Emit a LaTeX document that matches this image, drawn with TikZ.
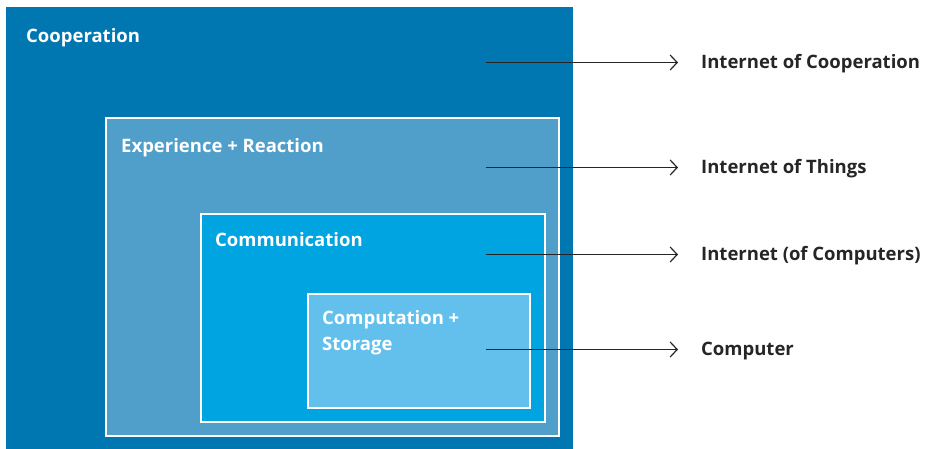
\documentclass[tikz,border=0pt]{standalone}
\usepackage{fontspec}
\setmainfont{Open Sans}
\usetikzlibrary{arrows.meta}
\definecolor{cOut}{HTML}{0077B0}
\definecolor{cExp}{HTML}{4F9FCA}
\definecolor{cCom}{HTML}{00A4E0}
\definecolor{cCmp}{HTML}{63C0EC}
\definecolor{txt}{HTML}{262626}
\begin{document}
\begin{tikzpicture}[x=1bp,y=-1bp,
  box/.style={draw=white,line width=2bp},
  boxlabel/.style={anchor=base west,inner sep=0,text=white,font=\fontsize{18.5bp}{26bp}\selectfont\bfseries},
  sidelabel/.style={anchor=base west,inner sep=0,text=txt,font=\fontsize{18.5bp}{22bp}\selectfont\bfseries},
  conn/.style={draw=txt,line width=1.2bp,-{Straight Barb[length=7bp,width=15bp,line width=1.2bp]}}]
\useasboundingbox (0,0) rectangle (925,449);
\fill[white] (0,0) rectangle (925,449);
\fill[cOut] (6,7) rectangle (573,449);
\filldraw[box,fill=cExp] (106,118) rectangle (559,436);
\filldraw[box,fill=cCom] (201,214) rectangle (545,422);
\filldraw[box,fill=cCmp] (308,294) rectangle (530,408);
\node[boxlabel] (l1) at (26,43) {Cooperation};
\node[boxlabel] (l2) at (121,153) {Experience + Reaction};
\node[boxlabel] (l3) at (215,247) {Communication};
\node[boxlabel] (l4) at (322,325) {\begin{tabular}[t]{@{}l@{}}Computation +\\Storage\end{tabular}};
\node[sidelabel] (r1) at (701,68.5) {Internet of Cooperation};
\node[sidelabel] (r2) at (701,173.5) {Internet of Things};
\node[sidelabel] (r3) at (701,260.5) {Internet (of Computers)};
\node[sidelabel] (r4) at (701,355.5) {Computer};
\coordinate (s1) at (486,62.5);
\coordinate (s2) at (486,167.5);
\coordinate (s3) at (486,254.5);
\coordinate (s4) at (486,349.5);
\coordinate (e1) at (678,62.5);
\coordinate (e2) at (678,167.5);
\coordinate (e3) at (678,254.5);
\coordinate (e4) at (678,349.5);
\draw[conn] (s1) -- (e1);
\draw[conn] (s2) -- (e2);
\draw[conn] (s3) -- (e3);
\draw[conn] (s4) -- (e4);
\end{tikzpicture}
\end{document}
